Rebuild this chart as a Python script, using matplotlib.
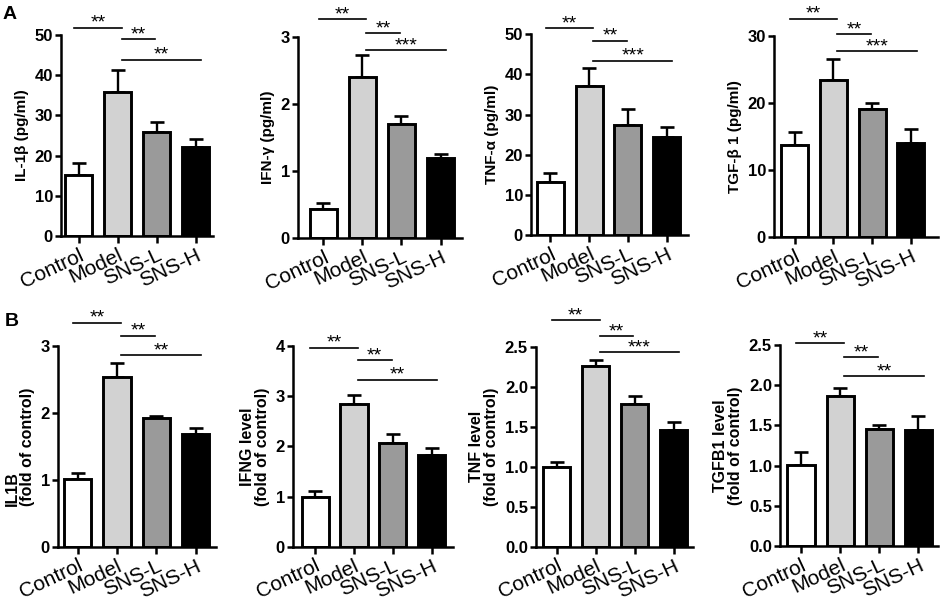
import numpy as np
import matplotlib
matplotlib.use('Agg')
import matplotlib.pyplot as plt

plt.rcParams['font.family'] = ['Liberation Sans', 'DejaVu Sans']

groups = ['Control', 'Model', 'SNS-L', 'SNS-H']
bar_colors = ['white', '#d2d2d2', '#9a9a9a', 'black']

# A: 血清细胞因子 (pg/ml)
il1b_mean = [15.1, 35.9, 25.8, 22.2]
il1b_err = [3.0, 5.5, 2.5, 1.9]
ifng_mean = [0.44, 2.41, 1.70, 1.19]
ifng_err = [0.09, 0.32, 0.13, 0.07]
tnfa_mean = [13.1, 37.1, 27.4, 24.5]
tnfa_err = [2.4, 4.4, 3.9, 2.3]
tgfb_mean = [13.7, 23.4, 19.1, 14.1]
tgfb_err = [2.0, 3.1, 0.9, 2.0]

# B: mRNA 相对表达 (fold of control)
il1b_fold = [1.01, 2.53, 1.93, 1.68]
il1b_fold_err = [0.09, 0.21, 0.03, 0.10]
ifng_fold = [1.00, 2.85, 2.07, 1.82]
ifng_fold_err = [0.11, 0.17, 0.17, 0.15]
tnf_fold = [1.00, 2.26, 1.79, 1.46]
tnf_fold_err = [0.06, 0.07, 0.09, 0.10]
tgfb1_fold = [1.01, 1.87, 1.45, 1.44]
tgfb1_fold_err = [0.16, 0.10, 0.05, 0.18]

# 显著性标记：(组i, 组j)
comparisons = [(0, 1), (1, 2), (1, 3)]
stars = {
    'A1': ['**', '**', '**'], 'A2': ['**', '**', '***'],
    'A3': ['**', '**', '***'], 'A4': ['**', '**', '***'],
    'B1': ['**', '**', '**'], 'B2': ['**', '**', '**'],
    'B3': ['**', '**', '***'], 'B4': ['**', '**', '**'],
}

W, H = 941, 603


def rect(left, right, top, bottom):
    return [left / W, 1 - bottom / H, (right - left) / W, (bottom - top) / H]


def draw_panel(ax, means, errs, ymax, ystep, ylabel, sig_y, sig_txt, xlim,
               lab_size=11, lab_align='center'):
    x = np.arange(len(groups))
    ax.errorbar(x, means, yerr=[np.zeros(len(errs)), errs], fmt='none',
                ecolor='black', elinewidth=1.7, capsize=5, capthick=1.9, zorder=1)
    ax.bar(x, means, width=0.7, color=bar_colors, edgecolor='black',
           linewidth=2.1, zorder=2)
    ax.set_xlim(*xlim)
    ax.set_ylim(0, ymax)
    ax.set_yticks(np.arange(0, ymax + ystep / 2, ystep))
    ax.set_xticks(x)
    ax.set_xticklabels(groups, fontsize=15, rotation=25, ha='right',
                       rotation_mode='anchor')
    for lbl in ax.get_yticklabels():
        lbl.set_fontweight('bold')
        lbl.set_fontsize(12)
    ax.tick_params(axis='y', direction='out', width=1.8, length=4.3, pad=1.5)
    ax.tick_params(axis='x', direction='out', width=1.8, length=5, pad=2)
    for s in ['top', 'right']:
        ax.spines[s].set_visible(False)
    for s in ['left', 'bottom']:
        ax.spines[s].set_linewidth(1.8)
    ax.set_ylabel(ylabel, fontsize=lab_size, fontweight='bold', labelpad=4,
                  linespacing=1.0, multialignment=lab_align)
    for (i, j), yy, txt in zip(comparisons, sig_y, sig_txt):
        x1 = i - 0.12 if i == 0 else i + 0.1
        x2 = {1: 1.1, 2: 1.97, 3: 3.15}[j]
        ax.plot([x1, x2], [yy, yy], color='black', lw=1.2, clip_on=False)
        ax.text((x1 + x2) / 2, yy, txt, ha='center', va='baseline',
                fontsize=14, clip_on=False)


fig = plt.figure(figsize=(9.41, 6.03), dpi=100)

ax = fig.add_axes(rect(61, 213, 35, 236))
draw_panel(ax, il1b_mean, il1b_err, 50, 10, 'IL-1β (pg/ml)',
           [51.8, 48.9, 43.8], stars['A1'], (-0.46, 3.45))
ax = fig.add_axes(rect(298, 462, 37.3, 238))
draw_panel(ax, ifng_mean, ifng_err, 3, 1, 'IFN-γ (pg/ml)',
           [3.27, 3.06, 2.81], stars['A2'], (-0.65, 3.55))
ax = fig.add_axes(rect(531, 688, 34.3, 235))
draw_panel(ax, tnfa_mean, tnfa_err, 50, 10, 'TNF-α (pg/ml)',
           [51.5, 48.4, 43.4], stars['A3'], (-0.50, 3.55))
ax = fig.add_axes(rect(774, 938, 35.7, 237.3))
draw_panel(ax, tgfb_mean, tgfb_err, 30, 10, 'TGF-β 1 (pg/ml)',
           [32.5, 30.25, 27.7], stars['A4'], (-0.53, 3.70))

ax = fig.add_axes(rect(58, 216, 346, 546.7))
draw_panel(ax, il1b_fold, il1b_fold_err, 3, 1, 'IL1B\n(fold of control)',
           [3.35, 3.15, 2.86], stars['B1'], (-0.5, 3.52), lab_size=11.5,
           lab_align='left')
ax = fig.add_axes(rect(293, 453, 346, 546.7))
draw_panel(ax, ifng_fold, ifng_fold_err, 4, 1, 'IFNG level\n(fold of control)',
           [3.97, 3.72, 3.33], stars['B2'], (-0.57, 3.55), lab_size=11.5)
ax = fig.add_axes(rect(536, 693, 346.7, 546.7))
draw_panel(ax, tnf_fold, tnf_fold_err, 2.5, 0.5, 'TNF level\n(fold of control)',
           [2.83, 2.63, 2.43], stars['B3'], (-0.53, 3.5), lab_size=11.5)
ax = fig.add_axes(rect(780, 938, 345, 546))
draw_panel(ax, tgfb1_fold, tgfb1_fold_err, 2.5, 0.5, 'TGFB1 level\n(fold of control)',
           [2.52, 2.35, 2.11], stars['B4'], (-0.54, 3.5), lab_size=11.5)

fig.text(3 / W, 1 - 19 / H, 'A', fontsize=14, fontweight='bold')
fig.text(5 / W, 1 - 326 / H, 'B', fontsize=14, fontweight='bold')

fig.savefig('out.png', dpi=100)
